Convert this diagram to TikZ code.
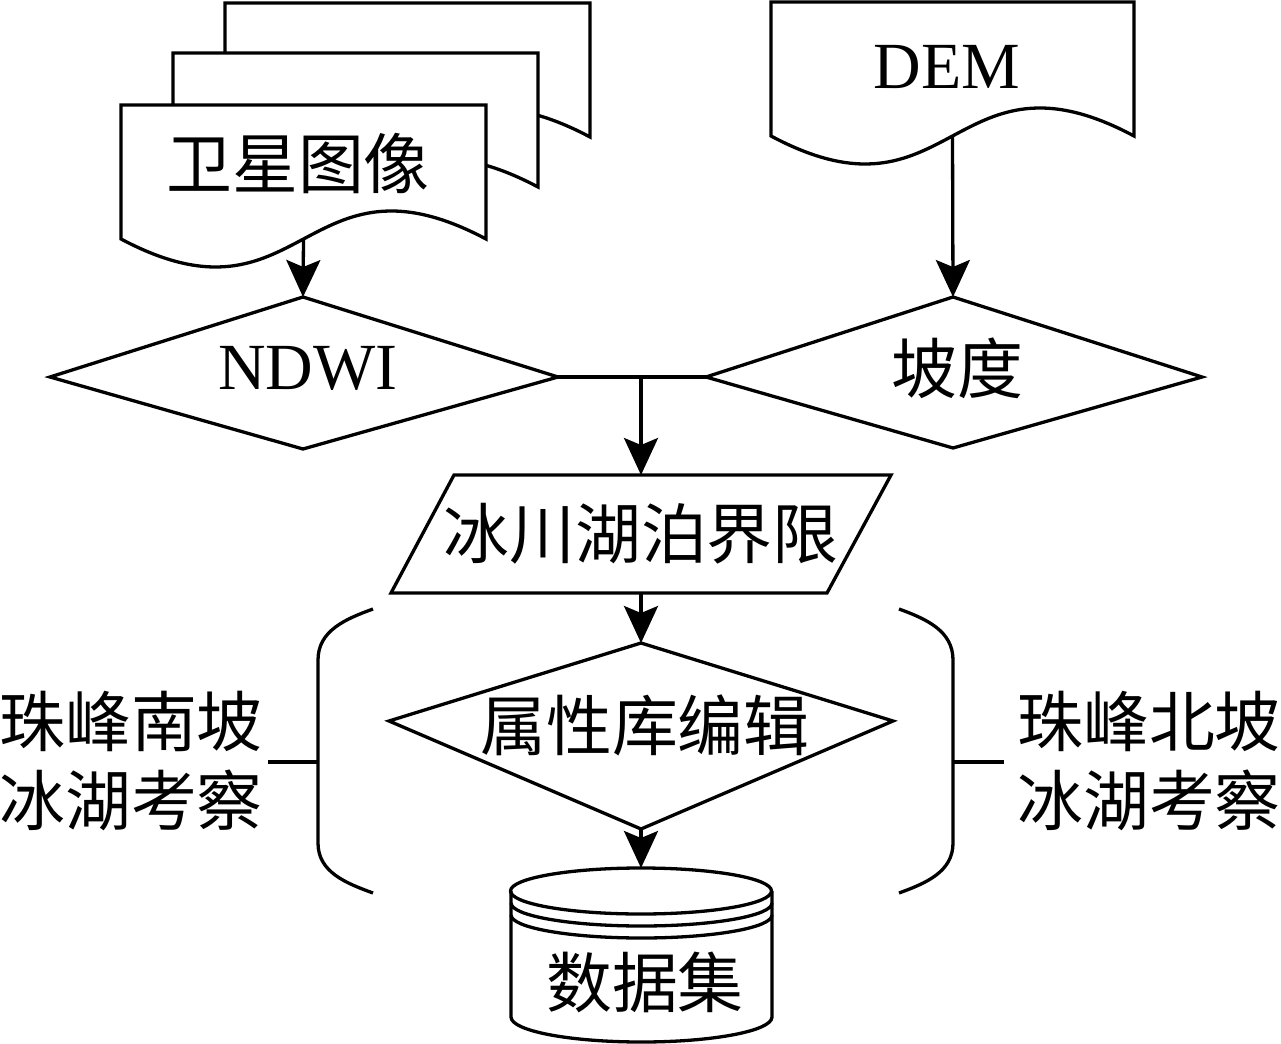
\documentclass[tikz,border=0pt]{standalone}
\usepackage{fontspec}
\setmainfont{Liberation Serif}
\newfontfamily\cjk{Noto Sans CJK SC}
\usetikzlibrary{arrows.meta}

% one sheet with a wavy lower edge: left, top, width
\newcommand{\docpage}[3]{%
	\begin{scope}[shift={(#1,#2)}]
		\draw[fill=white] (0,0) -- (0,134) .. controls (#3/2,231) and (#3/2,37) .. (#3,134) -- (#3,0) -- cycle;
	\end{scope}}

\begin{document}
\begin{tikzpicture}[x=0.02cm, y=-0.02cm, line width=0.066cm,
	every node/.style={font=\fontsize{37.5}{45.5}\selectfont, inner sep=0pt},
	>={Stealth[length=0.74cm, width=0.68cm, inset=0.14cm]}]
	\useasboundingbox (0,0) rectangle (1281,1044);
	% inputs
	\docpage{225}{3}{365}
	\docpage{173}{53}{365}
	\docpage{121}{105}{365}
	\docpage{771}{2}{363}
	\node (img) at (298,163) {\cjk 卫星图像};
	\node (dem) at (947,67) {DEM};
	\coordinate (imgout) at (303.5,239);
	\coordinate (demout) at (952.5,136);
	% NDWI and slope
	\coordinate (ndwiN) at (303,297);
	\coordinate (ndwiE) at (558,377);
	\draw (ndwiN) -- (50,377) -- (303,449) -- (ndwiE) -- cycle;
	\node (ndwi) at (308,368) {NDWI};
	\coordinate (slopeN) at (953,297);
	\coordinate (slopeW) at (706,377);
	\draw (slopeN) -- (slopeW) -- (953,448) -- (1202,377) -- cycle;
	\node (slope) at (957,368) {\cjk 坡度};
	% lake outline
	\coordinate (paraN) at (641,475);
	\coordinate (paraS) at (641,593);
	\draw (454,475) -- (891,475) -- (827,593) -- (391,593) -- cycle;
	\node (lake) at (641,534) {\cjk 冰川湖泊界限};
	% attribute editing
	\coordinate (attrN) at (641,643);
	\coordinate (attrS) at (641,829);
	\draw (attrN) -- (389,721) -- (attrS) -- (893,721) -- cycle;
	\node (attr) at (645,725) {\cjk 属性库编辑};
	% data set
	\coordinate (dbN) at (641,868);
	\draw (511,891) -- (511,1017) arc[start angle=180, end angle=0, x radius=130.5, y radius=25] -- (772,891);
	\draw (641,891) ellipse[x radius=130.5, y radius=23];
	\draw (511,903) arc[start angle=180, end angle=0, x radius=130.5, y radius=23];
	\draw (511,915) arc[start angle=180, end angle=0, x radius=130.5, y radius=23];
	\node (db) at (645,982) {\cjk 数据集};
	% brackets
	\draw (373,609) to[out=200, in=90] (318,660) -- (318,843) to[out=-90, in=160] (373,893);
	\draw (899,609) to[out=-20, in=90] (953,660) -- (953,843) to[out=-90, in=20] (899,893);
	\coordinate (lbr) at (318,762);
	\coordinate (rbr) at (953,762);
	\coordinate (ltick) at (268,762);
	\coordinate (rtick) at (1004,762);
	\node[align=center] (south) at (131,761) {\cjk 珠峰南坡\\\cjk 冰湖考察};
	\node[align=center] (north) at (1149,761) {\cjk 珠峰北坡\\\cjk 冰湖考察};
	% connectors
	\draw[->] (imgout) -- (ndwiN);
	\draw[->] (demout) -- (slopeN);
	\draw (ndwiE) -- (slopeW);
	\coordinate (jn) at (641,377);
	\draw[->] (jn) -- (paraN);
	\draw[->] (paraS) -- (attrN);
	\draw[->] (attrS) -- (dbN);
	\draw (ltick) -- (lbr);
	\draw (rbr) -- (rtick);
\end{tikzpicture}
\end{document}
